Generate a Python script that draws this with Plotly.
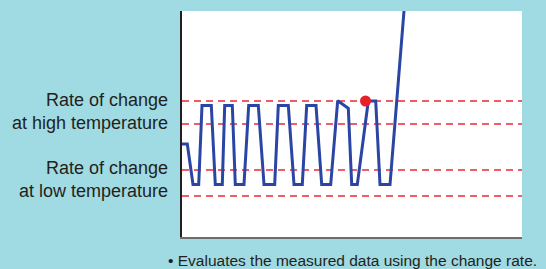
import plotly.graph_objects as go

# Time (arbitrary units) and measured value (arbitrary units)
time = [0, 5.3, 11, 16.7, 20, 29.3, 33.3, 40.3, 42.7, 50.3, 53.3, 62, 66.7, 76.3,
        82, 92.7, 96.3, 106.3, 112, 120.3, 124.7, 134, 139.7, 148.7, 155.7, 166.3,
        169.7, 175.3, 186.3, 193.7, 198, 208, 222]
value = [93, 93, 52.5, 52.5, 131.5, 131.5, 52.5, 52.5, 131.5, 131.5, 52.5, 52.5, 131.5, 131.5,
         52.5, 52.5, 131.5, 131.5, 52.5, 52.5, 131.5, 131.5, 52.5, 52.5, 136.3, 128.7,
         52.5, 52.5, 136, 136, 52.5, 52.5, 226]

alarm_time = [183.5]
alarm_value = [136]

# Threshold levels
high_rate_levels = [136, 113]
low_rate_levels = [67, 41]
label_high = "Rate of change<br>at high temperature"
label_low = "Rate of change<br>at low temperature"
footnote = "• Evaluates the measured data using the change rate."

X_RANGE = [0, 340]
Y_RANGE = [0, 226]

fig = go.Figure()
fig.add_trace(go.Scatter(x=time, y=value, mode="lines",
                         line=dict(color="#2A45A3", width=3), cliponaxis=True,
                         hoverinfo="skip", showlegend=False))
fig.add_trace(go.Scatter(x=alarm_time, y=alarm_value, mode="markers",
                         marker=dict(color="#E8202A", size=11, line=dict(width=0)),
                         hoverinfo="skip", showlegend=False))

for lv in high_rate_levels + low_rate_levels:
    fig.add_shape(type="line", xref="paper", x0=0, x1=1, yref="y", y0=lv, y1=lv,
                  line=dict(color="#E8283A", width=1.3, dash="7px,5px"), layer="below")

text_font = dict(family="Liberation Sans, Arial, sans-serif", size=18, color="#231F20")
fig.add_annotation(x=0, xref="paper", y=(high_rate_levels[0] + high_rate_levels[1]) / 2 + 1.5,
                   yref="y", text=label_high, showarrow=False, xanchor="right",
                   yanchor="middle", align="right", xshift=-12, font=text_font)
fig.add_annotation(x=0, xref="paper", y=(low_rate_levels[0] + low_rate_levels[1]) / 2 + 3.5,
                   yref="y", text=label_low, showarrow=False, xanchor="right",
                   yanchor="middle", align="right", xshift=-12, font=text_font)
fig.add_annotation(x=0, xref="paper", y=0, yref="paper", text=footnote, showarrow=False,
                   xanchor="left", yanchor="middle", xshift=-16, yshift=-23,
                   font=dict(family="Liberation Sans, Arial, sans-serif", size=15.5, color="#231F20"))

fig.update_layout(
    width=546, height=269,
    margin=dict(l=182, r=24, t=11, b=32, pad=0),
    paper_bgcolor="#A0DAE2", plot_bgcolor="#FFFFFF",
    xaxis=dict(range=X_RANGE, showgrid=False, zeroline=False, showticklabels=False,
               ticks="", showline=True, linecolor="#6E6E6E", linewidth=2, fixedrange=True),
    yaxis=dict(range=Y_RANGE, showgrid=False, zeroline=False, showticklabels=False,
               ticks="", showline=True, linecolor="#231F20", linewidth=1.5, fixedrange=True),
)

fig.write_html("out.html", config={"displayModeBar": False},
               post_script="document.body.style.margin='0';document.body.style.overflow='hidden';")
